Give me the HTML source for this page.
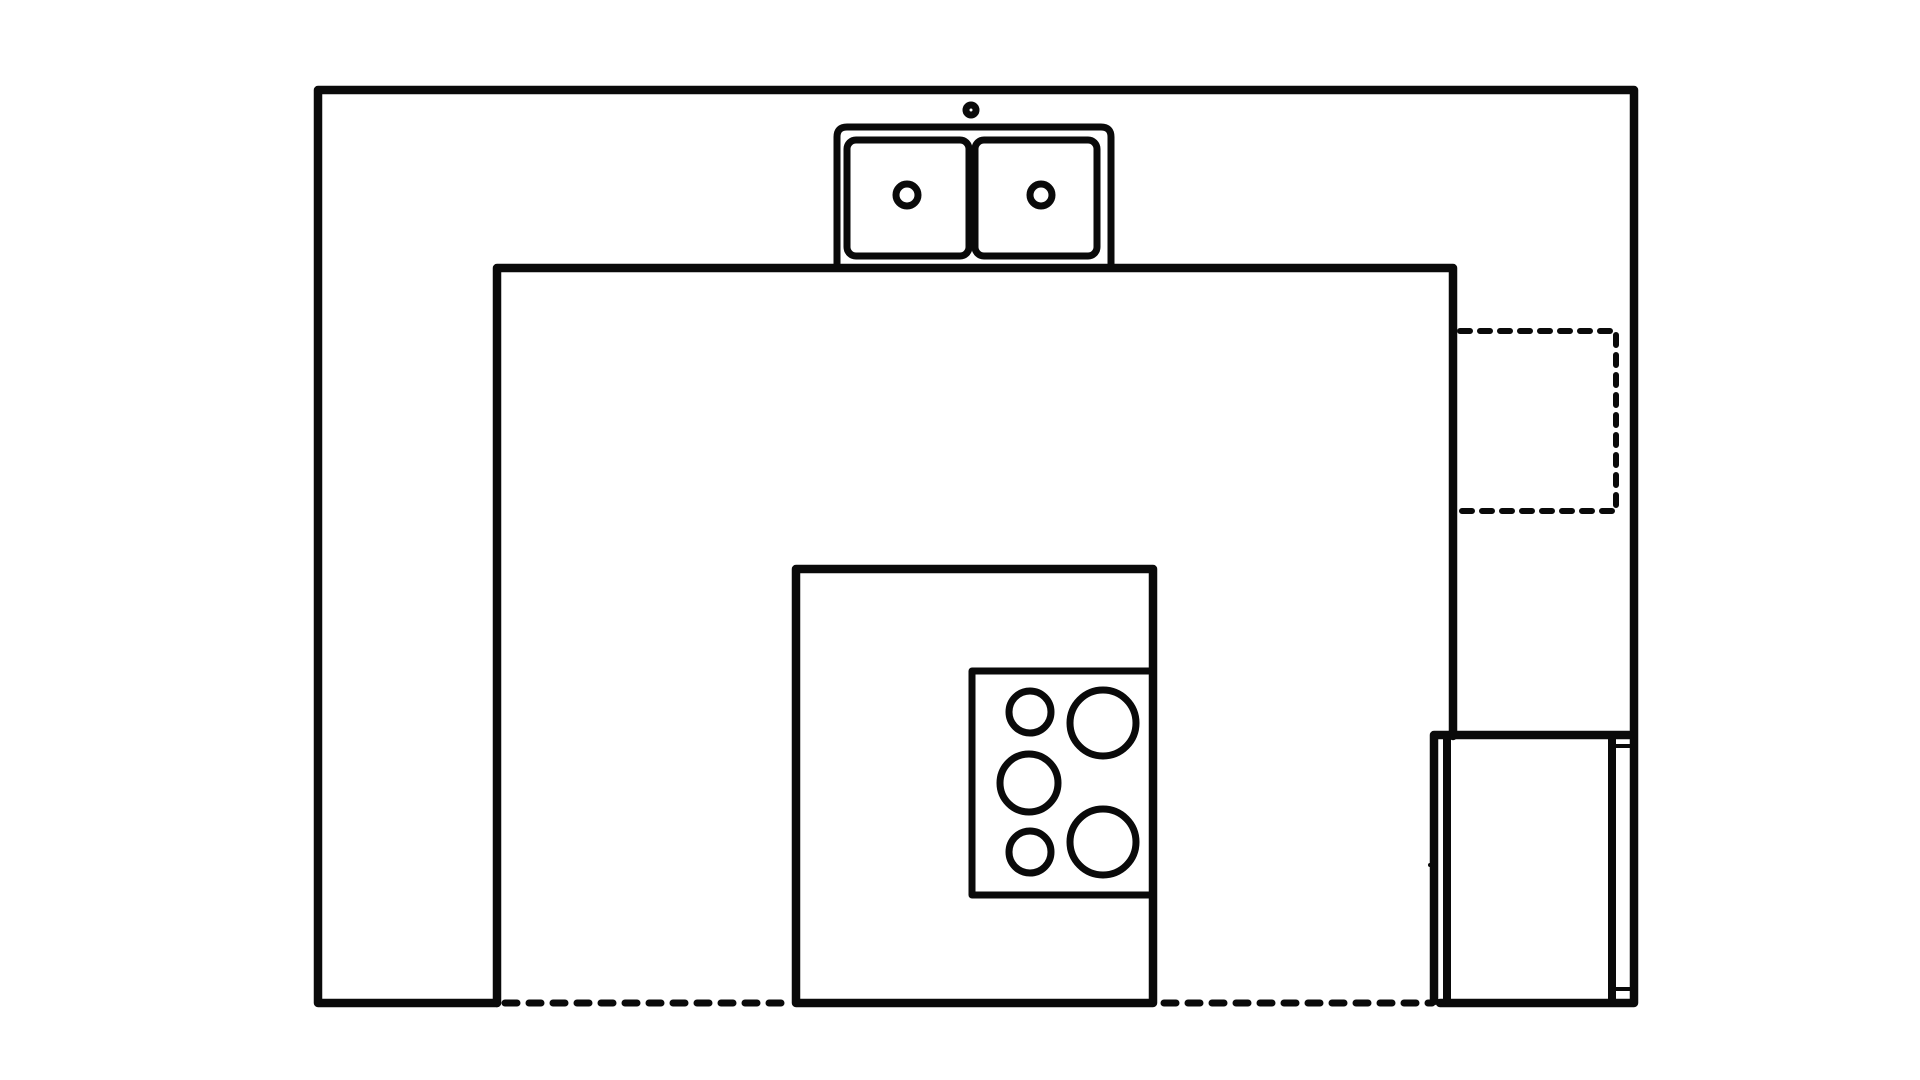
<!DOCTYPE html>
<html><head><style>html,body{margin:0;padding:0;background:#fff;}svg{display:block;}</style></head>
<body>
<svg width="1920" height="1080" viewBox="0 0 1920 1080" xmlns="http://www.w3.org/2000/svg">
<g fill="none" stroke="#0a0a0a" stroke-width="8.5" stroke-linecap="round" stroke-linejoin="round">
<polyline points="497,1003 318,1003 318,90 1634,90 1634,1003 1440,1003"/>
<polyline points="497,1003 497,268 1453,268 1453,736"/>
<line x1="505" y1="1003" x2="790" y2="1003" stroke-dasharray="12,12" stroke-width="7"/>
<line x1="1164" y1="1003" x2="1432" y2="1003" stroke-dasharray="12,12" stroke-width="7"/>
<polyline points="1460,331 1616,331 1616,511 1460,511" stroke-dasharray="10,10" stroke-width="6"/>
<path d="M837,265 L837,137 Q837,127 847,127 L1101,127 Q1111,127 1111,137 L1111,265" stroke-width="7"/>
<rect x="847" y="140" width="122" height="116" rx="9" stroke-width="7"/>
<rect x="975" y="140" width="122" height="116" rx="9" stroke-width="7"/>
<circle cx="907" cy="195" r="11" stroke-width="7"/>
<circle cx="1041" cy="195" r="11" stroke-width="7"/>
<circle cx="971" cy="110" r="5" stroke-width="7"/>
<polyline points="796,1003 796,569 1153,569 1153,1003 796,1003"/>
<polyline points="1150,671 972,671 972,895 1150,895" stroke-width="7"/>
<circle cx="1030" cy="712" r="21" stroke-width="7"/>
<circle cx="1103" cy="723" r="33" stroke-width="7"/>
<circle cx="1029" cy="783" r="29" stroke-width="7"/>
<circle cx="1030" cy="852" r="21" stroke-width="7"/>
<circle cx="1103" cy="842" r="33" stroke-width="7"/>
<polyline points="1434,1001 1434,735 1630,735"/>
<line x1="1447" y1="736" x2="1447" y2="1000" stroke-width="8"/>
<line x1="1612" y1="736" x2="1612" y2="1000" stroke-width="8"/>
<line x1="1614" y1="746" x2="1630" y2="746" stroke-width="4"/>
<line x1="1614" y1="989" x2="1630" y2="989" stroke-width="4"/>
<line x1="1430" y1="865" x2="1436" y2="865" stroke-width="4"/>
</g>
</svg>
</body></html>
